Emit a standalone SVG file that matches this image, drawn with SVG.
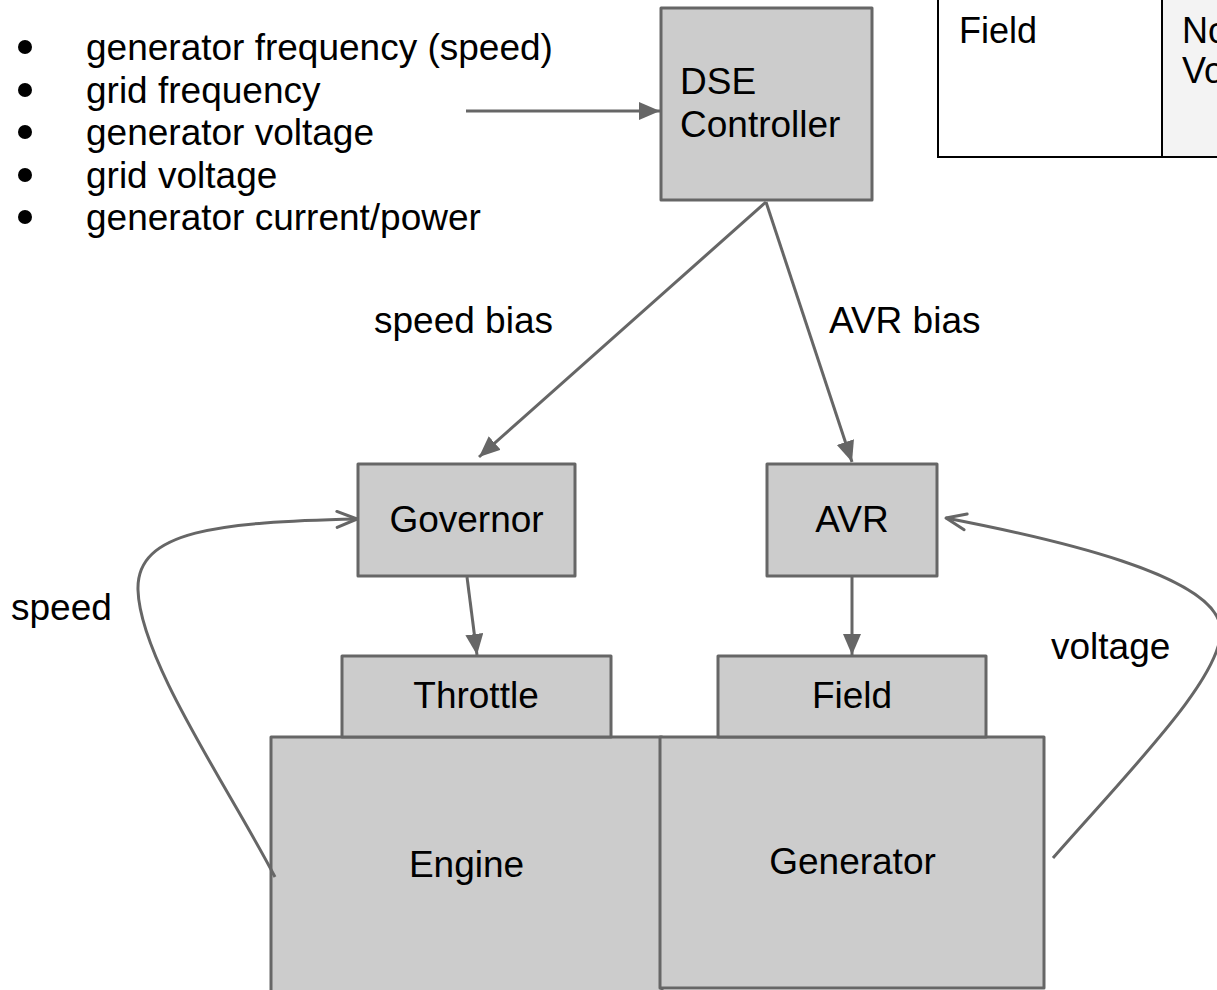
<svg xmlns="http://www.w3.org/2000/svg" width="1217" height="990" viewBox="0 0 1217 990">
<style>
.box{fill:#cccccc;stroke:#666666;stroke-width:3;stroke-linejoin:round}
.t{font-family:"Liberation Sans",Arial,sans-serif;font-size:37px;fill:#000}
.c{text-anchor:middle}
.ln{fill:none;stroke:#666666;stroke-width:3}
.fa{marker-end:url(#fill)}
.oa{marker-end:url(#open)}
</style>
<defs>
<marker id="fill" markerUnits="userSpaceOnUse" markerWidth="24" markerHeight="20" refX="21" refY="9" orient="auto">
<path d="M0,0 L21,9 L0,18 Z" fill="#666666"/>
</marker>
<marker id="open" markerUnits="userSpaceOnUse" markerWidth="26" markerHeight="22" refX="22" refY="10" orient="auto">
<path d="M2,2 L22,10 L2,18" fill="none" stroke="#666666" stroke-width="3" stroke-linejoin="round" stroke-linecap="round"/>
</marker>
</defs>

<g id="inputs">
<circle cx="25" cy="47" r="7" fill="#000"/>
<circle cx="25" cy="90" r="7" fill="#000"/>
<circle cx="25" cy="132" r="7" fill="#000"/>
<circle cx="25" cy="175" r="7" fill="#000"/>
<circle cx="25" cy="217" r="7" fill="#000"/>
<text class="t" x="86" y="60">generator frequency (speed)</text>
<text class="t" x="86" y="103">grid frequency</text>
<text class="t" x="86" y="145">generator voltage</text>
<text class="t" x="86" y="188">grid voltage</text>
<text class="t" x="86" y="230">generator current/power</text>
</g>

<g id="table">
<rect x="938" y="-10" width="300" height="167" fill="#ffffff" stroke="#000" stroke-width="2"/>
<rect x="1163" y="-10" width="70" height="166" fill="#f3f3f3"/>
<line x1="1162" y1="-10" x2="1162" y2="157" stroke="#000" stroke-width="2"/>
<text class="t" x="959" y="43" style="font-size:36px">Field</text>
<text class="t" x="1182" y="43" style="font-size:36px">No</text>
<text class="t" x="1182" y="83" style="font-size:36px">Vo</text>
</g>

<g id="engine">
<rect class="box" x="271" y="737" width="391" height="280"/>
<text class="t c" x="466.5" y="877">Engine</text>
</g>
<g id="generator">
<rect class="box" x="660" y="737" width="384" height="251"/>
<text class="t c" x="852.5" y="874">Generator</text>
</g>
<g id="throttle">
<rect class="box" x="342" y="656" width="269" height="81"/>
<text class="t c" x="476" y="708">Throttle</text>
</g>
<g id="field">
<rect class="box" x="718" y="656" width="268" height="81"/>
<text class="t c" x="852" y="708">Field</text>
</g>
<g id="dse">
<rect class="box" x="661" y="8" width="211" height="192"/>
<text class="t" x="680" y="94">DSE</text>
<text class="t" x="680" y="137">Controller</text>
</g>
<g id="governor">
<rect class="box" x="358" y="464" width="217" height="112"/>
<text class="t c" x="466.5" y="532">Governor</text>
</g>
<g id="avr">
<rect class="box" x="767" y="464" width="170" height="112"/>
<text class="t c" x="852" y="532">AVR</text>
</g>

<g id="connectors">
<path class="ln fa" d="M466,111 L660,111"/>
<path class="ln fa" d="M766,202 L479,457"/>
<path class="ln fa" d="M766,202 L852,462"/>
<path class="ln fa" d="M467,577 L477,655"/>
<path class="ln fa" d="M852,577 L852,655"/>
<path class="ln oa" d="M275,877 C230,790 140,660 138,590 C136,530 220,522 357,519"/>
<path class="ln oa" d="M1053,858 C1130,770 1230,670 1220,625 C1210,575 1060,540 946,518"/>
</g>

<g id="labels">
<text class="t" x="374" y="333">speed bias</text>
<text class="t" x="829" y="333">AVR bias</text>
<text class="t" x="11" y="620">speed</text>
<text class="t" x="1051" y="659">voltage</text>
</g>
</svg>
